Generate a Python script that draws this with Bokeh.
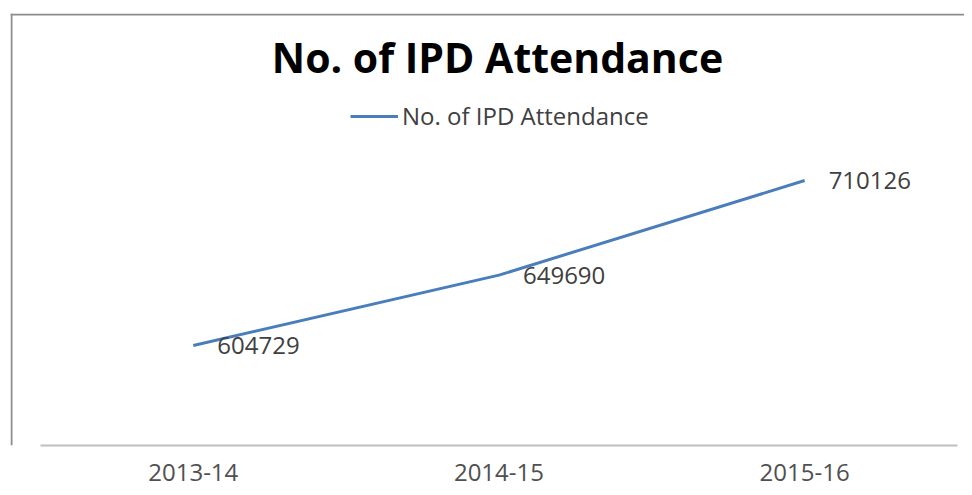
from bokeh.plotting import figure
from bokeh.models import Range1d, FixedTicker, Span, Label, ColumnDataSource
from bokeh.core.properties import value
from bokeh.embed import file_html
from bokeh.resources import INLINE

categories = ["2013-14", "2014-15", "2015-16"]
attendance = [604729, 649690, 710126]
series_name = "No. of IPD Attendance"
title_text = "No. of IPD Attendance"

FONT = "Open Sans"
LINE_COLOR = "#4a7ebb"
TEXT_COLOR = "#404040"

x_idx = list(range(len(categories)))
src = ColumnDataSource(dict(x=x_idx, y=attendance, lbl=[str(v) for v in attendance]))

x_start, x_end = -0.598, 2.523
y_start, y_end = 540852, 816800

p = figure(width=964, height=487, output_backend="svg", toolbar_location=None,
           x_range=Range1d(x_start, x_end), y_range=Range1d(y_start, y_end),
           min_border_left=10, min_border_right=0, min_border_top=13, min_border_bottom=42)
p.background_fill_color = "white"
p.border_fill_color = "white"
p.outline_line_color = None
p.xgrid.visible = False
p.ygrid.visible = False
p.yaxis.visible = False

ax = p.xaxis[0]
ax.ticker = FixedTicker(ticks=x_idx)
ax.major_label_overrides = {i: c for i, c in enumerate(categories)}
ax.bounds = (-0.5, len(categories) - 0.5)
ax.axis_line_color = "#bfbfbf"
ax.axis_line_width = 2
ax.major_tick_line_color = None
ax.minor_tick_line_color = None
ax.major_label_text_font = FONT
ax.major_label_text_font_size = "24px"
ax.major_label_text_color = "#505050"
ax.major_label_standoff = 12

# chart-area border (left and top edges)
px_x = (x_end - x_start) / 954.0
px_y = (y_end - y_start) / 432.0
p.add_layout(Span(location=x_start + 1 * px_x, dimension="height", line_color="#8c8c8c", line_width=2))
p.add_layout(Span(location=y_end - 1 * px_y, dimension="width", line_color="#8c8c8c", line_width=2))

r = p.line("x", "y", source=src, line_color=LINE_COLOR, line_width=3, legend_label=series_name)

p.text("x", "y", text="lbl", source=src, x_offset=24, text_baseline="middle",
       text_align="left", text_font=value(FONT), text_font_size="24px", text_color=TEXT_COLOR)

p.add_layout(Label(x=1 - 1.5 * px_x, y=604729 + (345 - 57) * 638.77, text=title_text,
                   text_align="center", text_baseline="middle", text_font=FONT,
                   text_font_size="41px", text_font_style="bold", text_color="#000000"))

lg = p.legend[0]
lg.location = (340, 313)
lg.orientation = "horizontal"
lg.background_fill_alpha = 0
lg.border_line_color = None
lg.padding = 0
lg.margin = 0
lg.glyph_width = 48
lg.glyph_height = 24
lg.label_height = 24
lg.label_standoff = 4
lg.label_text_font = FONT
lg.label_text_font_size = "24px"
lg.label_text_color = TEXT_COLOR

open("out.html", "w").write(file_html(p, INLINE))
